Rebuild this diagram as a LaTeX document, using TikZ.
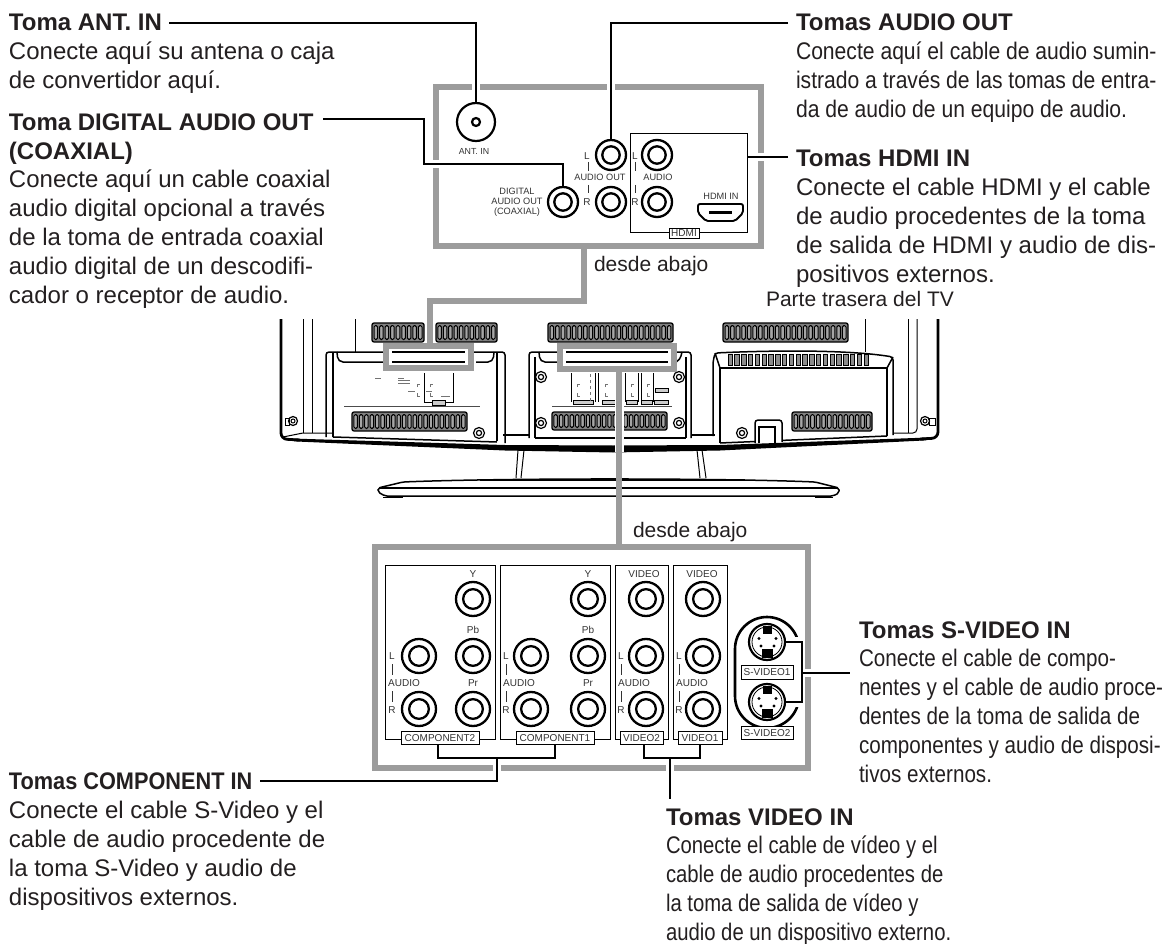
\documentclass[tikz,border=0pt]{standalone}
\usepackage{fontspec}
\setmainfont{Liberation Sans}
\newfontfamily\fa[FakeStretch=.88]{Liberation Sans}
\newfontfamily\fb[FakeStretch=.845]{Liberation Sans}
\newfontfamily\fc[FakeStretch=.86]{Liberation Sans}
\newfontfamily\fd[FakeStretch=.905]{Liberation Sans Bold}
\definecolor{txt}{HTML}{231F20}
\definecolor{gbox}{HTML}{9C9C9C}
\definecolor{lab}{HTML}{333333}
\tikzset{
  x=1pt,y=-1pt,
  body/.style={anchor=north west,inner sep=0,outer sep=0,align=left,text=txt,font=\fontsize{24}{28.8}\selectfont},
  title/.style={anchor=base west,inner sep=0,outer sep=0,text=txt,font=\fontsize{24}{28.8}\selectfont\bfseries},
  note/.style={anchor=base west,inner sep=0,outer sep=0,text=txt,font=\fontsize{21}{25}\selectfont},
  small/.style={inner sep=0,outer sep=0,text=lab,font=\fontsize{10}{10}\selectfont},
  smalls/.style={inner sep=0,outer sep=0,text=lab,align=center,font=\fontsize{9.2}{9.8}\selectfont},
  jack/.style={circle,draw=black,line width=2.3,fill=white,inner sep=0,minimum size=#1,
     path picture={\draw[line width=2.3] (path picture bounding box.center) circle (#1*.29);}},
  jack/.default=34,
  svid/.style={circle,draw=black,line width=2.2,fill=white,inner sep=0,minimum size=36},
  panel/.style={draw=black,line width=.9},
  tag/.style={draw=black,line width=.8,fill=white,inner sep=0,text=lab,font=\fontsize{10}{10}\selectfont,minimum height=13.5},
  gbx/.style={draw=gbox,line width=6},
  conn/.style={draw=black,line width=2,preaction={draw=white,line width=8}},
  brk/.style={draw=black,line width=2},
  tick/.style={draw=lab,line width=.9},
  tvt/.style={draw=black,line width=1},
  tvm/.style={draw=black,line width=1.5},
  tvk/.style={draw=black,line width=2.8},
  mini/.style={draw=black!55,line width=.7},
}
\newcommand{\vent}[5]{%
  \draw[line width=1.3,rounded corners=2,fill=black!50] (#1,#3) rectangle (#2,#4);
  \pgfmathsetmacro{\vst}{(#2-#1-2)/#5}
  \foreach \i in {1,...,#5}{
    \pgfmathsetmacro{\vx}{#1+1+(\i-.5)*\vst}
    \draw[line width=1,fill=black!35,rounded corners=1.5] (\vx-.32*\vst,#3+2.5) rectangle (\vx+.32*\vst,#4-2.5);
  }}
\newcommand{\screw}[2]{\draw[line width=1.2] (#1,#2) circle (5.5); \draw[line width=1.2] (#1,#2) circle (2.6);}
\newcommand{\audtick}[5]{% x of ticks, x of AUDIO, y top, y mid, y bot
  \node[small] at (#1,#3) {L};
  \node[small] at (#1,#5) {R};
  \node[small] at (#2,#4) {AUDIO};
  \draw[tick] (#1,#3+8) -- (#1,#4-8);
  \draw[tick] (#1,#4+8) -- (#1,#5-8);}
\newcommand{\svdet}[2]{%
  \draw[line width=.8] (#1,#2) circle (15);
  \fill (#1-4.5,#2-16) rectangle (#1+4.5,#2-8);
  \fill (#1-5.5,#2+7) rectangle (#1+5.5,#2+16);
  \foreach \dx/\dy in {-8/-3.5,9/-3.5,-6/4,7/4}
    \fill (#1+\dx,#2+\dy) circle (1.6);}
\begin{document}
\begin{tikzpicture}
\useasboundingbox (0,0) rectangle (1168,944);
% ---- TV ----
% outer frame
\draw[tvk,rounded corners=6] (281,319) -- (281,439) -- (300,440);
\draw[tvk,rounded corners=6] (938,319) -- (938,438) -- (920,439);
\fill (294,438.6) -- (505,445) -- (613,445.5) -- (720,445) -- (926,437.6) -- (926,440.4) -- (720,450.5) -- (613,452.5) -- (505,450.5) -- (294,441.4) -- cycle;
\draw[tvt] (303,319) -- (303,433); \draw[tvt] (312,319) -- (312,433);
\draw[tvt] (283,437) -- (303,433) -- (333,433);
\draw[tvt] (355,319) -- (355,352);
\draw[tvt] (865,319) -- (865,352);
\draw[tvt] (908,319) -- (908,433); \draw[tvt,rounded corners=4] (917,319) -- (917,433) -- (893,433);
% brackets
\draw[line width=1.2] (293,421) circle (4.5); \draw[line width=1] (293,421) circle (2);
\draw[line width=1] (285,418) rectangle (289,425);
\draw[line width=1.2] (925,421) circle (4.5); \draw[line width=1] (925,421) circle (2);
\draw[line width=1] (929,418) rectangle (935,425);
% vents
\vent{372}{424}{323}{342}{9}
\vent{436}{497}{323}{342}{11}
\vent{548}{673}{323}{342}{22}
\vent{723}{848}{323}{342}{22}
\vent{352}{467}{412}{431}{21}
\vent{552}{667}{412}{430}{21}
\vent{792}{872}{412}{431}{14}
% left module
\draw[tvm,rounded corners=3] (326,437) -- (326,352) -- (505,352) -- (505,443);
\draw[tvm,rounded corners=3] (333,437) -- (333,352);
\draw[tvm,rounded corners=3] (497,441) -- (497,352);
\draw[tvm,rounded corners=5] (337,352) -- (338,362) -- (390,362);
\draw[tvm,rounded corners=5] (476,362) -- (493,362) -- (494,352);
\draw[tvm] (333,437) -- (497,442);
\draw[line width=.8,draw=black!70] (344,406) -- (480,406);
\draw[mini,draw=black,line width=.9] (424,373) -- (424,402) -- (453,402) -- (453,373);
\draw[line width=.6,fill=black!20] (432,400) rectangle (445,405);
\draw[mini] (417,387) -- (417,384) -- (420,384); \draw[mini] (417,393) -- (417,396) -- (420,396);
\draw[mini] (430,387) -- (430,384) -- (433,384); \draw[mini] (430,393) -- (430,396) -- (433,396);
\draw[mini] (375,378) -- (381,378); \draw[mini] (398,378) -- (404,378);
\draw[mini] (398,380.5) -- (410,380.5); \draw[mini] (398,383) -- (410,383);
\draw[mini] (408,391) -- (415,391); \draw[mini] (426,391) -- (432,391); \draw[mini] (441,396) -- (450,396);
\screw{479}{433}
% centre module
\draw[tvm,rounded corners=3] (529,438) -- (529,352) -- (691,352) -- (691,438);
\draw[tvm] (535,438) -- (535,357);
\draw[tvm] (686,438) -- (686,357);
\draw[tvm,rounded corners=5] (539,352) -- (540,362) -- (560,362);
\draw[tvm,rounded corners=4] (676,362) -- (680,360) -- (682,352);
\draw[tvm] (535,438) -- (686,438);
\draw[tvm] (503,435) -- (529,435); \draw[tvm] (691,435) -- (715,435);
\draw[line width=.8,draw=black!70] (552,406) -- (672,406);
\foreach \xa/\xb in {571/595,598/622,625/638,641/653}
  \draw[line width=.9] (\xa,373) -- (\xa,402) (\xb,373) -- (\xb,402);
\foreach \xa/\xb in {573/593,602/618,626/637,641/652,654/668}
  \draw[line width=.6,fill=black!20] (\xa,400) rectangle (\xb,404);
\draw[line width=.6,fill=black!20] (655,388) rectangle (668,392);
\foreach \xx in {577,605,631,647}{
  \draw[mini] (\xx,387) -- (\xx,384) -- (\xx+3,384); \draw[mini] (\xx,393) -- (\xx,396) -- (\xx+3,396);}
\draw[mini,dashed] (590,374) -- (590,402);
\screw{541}{377}\screw{541}{423}\screw{679}{377}\screw{679}{423}
% right module
\draw[tvm,rounded corners=3] (713,436) -- (713,362) -- (715,353) .. controls (780,350) and (850,350) .. (893,357) -- (893,435);
\draw[tvm] (720,443) -- (720,368) -- (887,368) -- (887,436);
\draw[tvm] (715,353) -- (720,368); \draw[tvm] (893,357) -- (887,368);
\draw[tvm] (720,443) -- (887,436);
\foreach \i in {0,...,20}
  \draw[line width=1,fill=black!45] (728+\i*6.8,354) rectangle (732.5+\i*6.8,365);
\draw[tvm,rounded corners=3,fill=white] (755,443) -- (755,420) -- (782,420) -- (782,442);
\draw[tvm] (759,443) -- (759,427) -- (775,427) -- (775,443);
\screw{742}{433}
% stand
\draw[tvt] (518,450) -- (516,478) (524,450) -- (521,478);
\draw[tvt] (697,450) -- (700,478) (702,450) -- (706,478);
\draw[tvm,rounded corners=2,fill=white] (403,482) .. controls (500,478) and (720,478) .. (815,482) -- (839,488) -- (839,493) -- (833,496) -- (385,496) -- (378,492) -- (378,488) -- cycle;
\draw[line width=1.2] (380,488) -- (838,488);
\draw[line width=2.4] (480,479.8) -- (745,479.8);
\draw[line width=1.2] (383,497.5) -- (403,497.5) (815,497.5) -- (833,497.5);
% ---- grey leaders ----
\draw[draw=white,line width=9] (619,372) -- (619,452);
\draw[gbx,line cap=butt] (619,372) -- (619,544);
\draw[gbx,line cap=butt] (584,249) -- (584,301) -- (430,301) -- (430,343);
\draw[gbx,fill=white] (386,346) rectangle (471,368);
\draw[gbx,fill=white] (560,346) rectangle (674,369);
\draw[tvm] (392,352) -- (465,352) (392,362) -- (465,362);
\draw[tvm] (566,352) -- (668,352) (566,362) -- (668,362);
\draw[gbx] (436,87) rectangle (761,246);
\draw[gbx] (375,547) rectangle (808,768);
% ---- upper panel ----
\draw[panel] (630,133) rectangle (747,232);
\node[circle,draw=black,line width=2.2,minimum size=38,inner sep=0,fill=white] (antc) at (476,122) {};
\node[circle,draw=black,line width=2.2,minimum size=8,inner sep=0] (anti) at (476,122) {};
\node[jack=30] (jdig) at (563,202) {};
\node[jack=30] (jaol) at (611,155) {};
\node[jack=30] (jaor) at (611,202) {};
\node[jack=30] (jhl) at (657,155) {};
\node[jack=30] (jhr) at (657,202) {};
\node[small,font=\fontsize{8.8}{9}\selectfont] (lant) at (474,151) {ANT. IN};
\node[smalls] (ldig) at (517,202) {DIGITAL\\AUDIO OUT\\(COAXIAL)};
\node[smalls] (laoh) at (600,177) {AUDIO OUT};
\node[small] at (587,156) {L};
\node[small] at (587,202) {R};
\draw[tick] (588,162) -- (588,171) (588,185) -- (588,193);
\node[smalls] (lah) at (658,177) {AUDIO};
\node[small] at (635,156) {L};
\node[small] at (635,202) {R};
\draw[tick] (635,162) -- (635,171) (635,185) -- (635,193);
\node[smalls] (lhi) at (721,196) {HDMI IN};
\node[tag,minimum width=30,minimum height=10] (thdmi) at (684,233) {HDMI};
\draw[line width=1.9,rounded corners=2] (698,204) -- (743,204) -- (743,213) -- (735,221) -- (706,221) -- (698,213) -- cycle;
\draw[line width=2.4] (709,212.5) -- (732,212.5);
% ---- lower panel ----
\draw[panel] (385,565) rectangle (495,739);
\draw[panel] (500,565) rectangle (610,739);
\draw[panel] (615,565) rectangle (668,739);
\draw[panel] (673,565) rectangle (727,739);
\foreach \n/\x in {a/473,b/588,c/646,d/703}{
  \node[jack] (y\n) at (\x,599) {};
  \node[jack] (p\n) at (\x,656) {};
  \node[jack] (r\n) at (\x,709) {};
}
\node[jack] (la) at (419,656) {}; \node[jack] (ra) at (419,709) {};
\node[jack] (lb) at (531,656) {}; \node[jack] (rb) at (531,709) {};
\foreach \x/\t/\b in {473/Pb/Pr,588/Pb/Pr}{
  \node[small] at (\x,574) {Y};
  \node[small] at (\x,630) {\t};
  \node[small] at (\x,683) {\b};
}
\node[small] at (644,574) {VIDEO};
\node[small] at (702,574) {VIDEO};
\audtick{392}{404}{656}{683}{710}
\audtick{506}{519}{656}{683}{710}
\audtick{621}{634}{656}{683}{710}
\audtick{679}{692}{656}{683}{710}
\node[tag,minimum width=78] (tc2) at (440,738) {COMPONENT2};
\node[tag,minimum width=78] (tc1) at (555,738) {COMPONENT1};
\node[tag,minimum width=43] (tv2) at (641.5,738) {VIDEO2};
\node[tag,minimum width=44] (tv1) at (700,738) {VIDEO1};
% S-video
\draw[line width=2.6,rounded corners=32] (735,617) rectangle (799,728);
\fill[white] (794,637) rectangle (801,707);
\node[svid] (sv1) at (767,642) {};
\node[svid] (sv2) at (767,702) {};
\svdet{767}{642}
\svdet{767}{702}
\node[tag,minimum width=52] (ts1) at (767,672.5) {S-VIDEO1};
\node[tag,minimum width=52] (ts2) at (767,733) {S-VIDEO2};
% ---- text ----
\node[title] (ttant) at (9,31) {Toma ANT. IN};
\node[body] (btant) at (9,39.8) {\strut Conecte aquí su antena o caja\\de convertidor aquí.};
\node[title] (ttdig) at (9,131) {Toma DIGITAL AUDIO OUT};
\node[title] (ttdig2) at (9,160) {(COAXIAL)};
\node[body] (btdig) at (9,167.8) {\strut Conecte aquí un cable coaxial\\audio digital opcional a través\\de la toma de entrada coaxial\\audio digital de un descodifi-\\cador o receptor de audio.};
\node[title] (ttao) at (796,31) {Tomas AUDIO OUT};
\node[body,font=\fontsize{24}{28.8}\selectfont\fa] (btao) at (796,39.8) {\strut Conecte aquí el cable de audio sumin-\\istrado a través de las tomas de entra-\\da de audio de un equipo de audio.};
\node[title] (tthd) at (796,167) {Tomas HDMI IN};
\node[body] (bthd) at (796,175.8) {\strut Conecte el cable HDMI y el cable\\de audio procedentes de la toma\\de salida de HDMI y audio de dis-\\positivos externos.};
\node[note] (nback) at (766,306) {Parte trasera del TV};
\node[note] (nd1) at (594,272) {desde abajo};
\node[note] (nd2) at (633,537) {desde abajo};
\node[title,font=\fontsize{24}{28.8}\selectfont\fd] (ttco) at (9,789) {Tomas COMPONENT IN};
\node[body] (btco) at (9,798.8) {\strut Conecte el cable S-Video y el\\cable de audio procedente de\\la toma S-Video y audio de\\dispositivos externos.};
\node[title] (ttvi) at (666,825) {Tomas VIDEO IN};
\node[body,font=\fontsize{24}{28.8}\selectfont\fb] (btvi) at (666,833.8) {\strut Conecte el cable de vídeo y el\\cable de audio procedentes de\\la toma de salida de vídeo y\\audio de un dispositivo externo.};
\node[title] (ttsv) at (859,638) {Tomas S-VIDEO IN};
\node[body,font=\fontsize{24}{28.8}\selectfont\fc] (btsv) at (859,646.8) {\strut Conecte el cable de compo-\\nentes y el cable de audio proce-\\dentes de la toma de salida de\\componentes y audio de disposi-\\tivos externos.};
% ---- connectors ----
\coordinate (cant) at (169,23.3);
\coordinate (cao) at (788,23.3);
\coordinate (cdig) at (323,119.5);
\coordinate (cdig2) at (424,164.5);
\coordinate (chd) at (788,157);
\coordinate (ccoS) at (260,781);
\coordinate (cco) at (497,758);
\coordinate (cvi) at (670,758);
\coordinate (cviE) at (670,799);
\coordinate (csv) at (802,673);
\coordinate (csvE) at (850,673);
\coordinate (chp) at (748,157);
\draw[conn] (cant) -| (antc.north);
\draw[conn] (cao) -| (jaol.north);
\draw[conn] (cdig) -| (cdig2) -| (jdig.north);
\draw[conn] (chd) -- (chp);
\draw[conn] (ccoS) -| (cco);
\draw[conn] (cvi) -- (cviE);
\draw[conn] (csv) -- (csvE);
\draw[brk] (tc2.south) ++(-2,0) |- (cco) -| ([xshift=0]tc1.south);
\draw[brk] (tv2.south) ++(2.5,0) |- (cvi) -| (tv1.south);
\draw[line width=1.3] (sv1.east) -- (802,642) -- (802,702) -- (sv2.east);
\end{tikzpicture}
\end{document}
